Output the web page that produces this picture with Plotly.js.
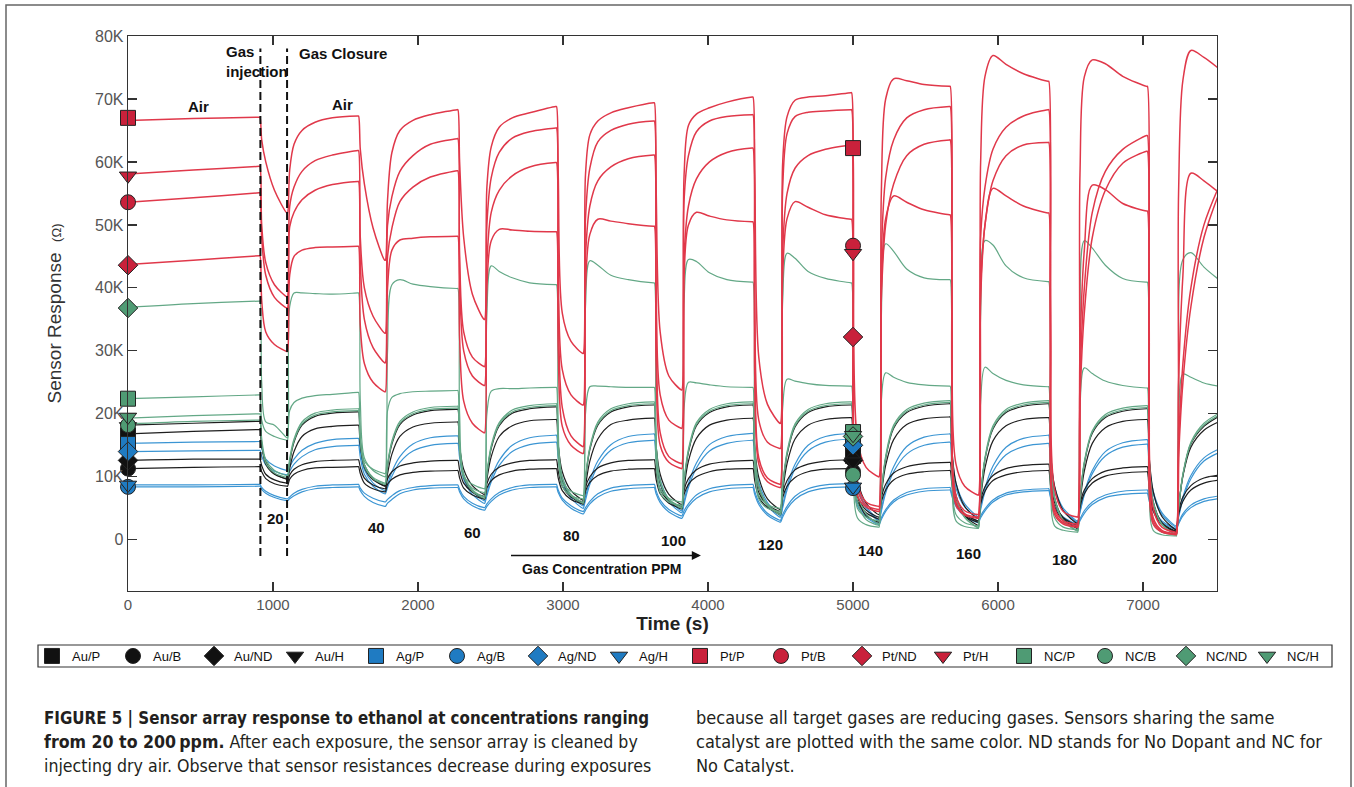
<!DOCTYPE html>
<html><head><meta charset="utf-8">
<script src="https://cdn.plot.ly/plotly-3.0.1.min.js"></script>
<style>html,body{margin:0;padding:0;background:#fff;}#chart{width:1354px;height:787px;}</style>
</head><body><div id="chart"></div>
<script>
// ---- timing of the exposure cycles (s) ----
const dropStart = [910, 1590, 2275, 2955, 3630, 4310, 4990, 5670, 6350, 7030];
const gasClose  = [1100, 1775, 2460, 3140, 3820, 4500, 5180, 5865, 6550, 7230];
const baseTimes = [0, 450];
const dropOffsets = [12, 40, 100];
const riseOffsets = [15, 45, 100, 190, 310];
const concLabels = ['20','40','60','80','100','120','140','160','180','200'];
const concX = [1019, 1712, 2378, 3060, 3763, 4432, 5117, 5799, 6460, 7149];
const concY = [3.3, 2.0, 1.2, 0.7, -0.1, -0.8, -1.7, -2.2, -3.1, -2.9];
const xTicks = [0,1000,2000,3000,4000,5000,6000,7000];
const xTickText = ['0','1000','2000','3000','4000','5000','6000','7000'];
const yTicks = [0,10,20,30,40,50,60,70,80];
const yTickText = ['0','10K','20K','30K','40K','50K','60K','70K','80K'];

// ---- sensor responses (kOhm). rows: [air end, +12s, +40s, +100s, min at closure, +15, +45, +100, +190, +310] ----
const AuP_base = [16.8, 17.2];
const AuP = [
 [17.5,15.0,12.4,10.5,9.6, 11.3,14.0,16.4,17.6,18.0],
 [18.2,15.0,11.9,9.7,8.5, 10.5,13.6,16.4,17.9,18.5],
 [18.7,14.8,11.2,8.6,7.2, 9.6,13.2,16.4,18.1,18.9],
 [19.1,15.1,10.8,7.8,6.3, 8.5,12.5,16.0,18.3,19.0],
 [19.3,14.9,10.4,7.2,5.6, 8.3,12.5,16.1,18.2,19.0],
 [19.3,14.5,9.9,6.5,4.8, 7.7,12.1,16.0,18.2,19.1],
 [19.4,13.3,9.4,5.8,4.0, 7.1,11.8,15.9,18.3,19.2],
 [19.5,14.2,9.0,5.3,3.4, 6.6,11.4,15.7,18.1,19.1],
 [19.4,13.8,8.5,4.6,2.6, 5.9,10.9,15.3,17.8,18.8],
 [19.1,13.3,7.7,3.7,1.6, 5.0,10.1,14.7,17.4,18.9]];
const AuB_base = [11.3, 11.5];
const AuB = [
 [11.6,10.8,9.7,8.9,8.5, 9.6,10.4,11.0,11.4,11.5],
 [11.6,10.5,9.0,8.1,7.6, 8.8,9.6,10.3,10.7,10.9],
 [11.0,9.8,8.2,7.1,6.5, 8.2,9.4,10.3,10.9,11.2],
 [11.3,9.8,7.8,6.4,5.7, 7.7,9.1,10.2,10.9,11.2],
 [11.3,9.6,7.3,5.8,5.0, 7.2,8.8,10.0,10.8,11.2],
 [11.3,9.4,6.8,5.1,4.2, 6.7,8.5,9.9,10.8,11.2],
 [11.3,10.8,6.1,4.3,3.3, 6.0,7.9,9.5,10.4,10.8],
 [11.0,8.8,5.7,3.8,2.8, 5.7,7.7,9.4,10.3,10.8],
 [11.0,8.6,5.2,3.1,2.0, 5.1,7.3,9.0,10.1,10.6],
 [10.8,8.2,4.6,2.4,1.3, 4.0,6.1,7.9,9.0,9.5]];
const AuND_base = [12.6, 12.8];
const AuND = [
 [12.8,11.8,10.4,9.5,9.0, 10.3,11.2,11.9,12.4,12.6],
 [12.7,11.5,9.8,8.7,8.1, 9.7,10.8,11.7,12.2,12.5],
 [12.6,11.1,9.0,7.6,6.9, 8.9,10.4,11.5,12.2,12.6],
 [12.7,10.9,8.5,6.8,6.0, 8.3,10.0,11.4,12.2,12.6],
 [12.7,10.7,8.0,6.2,5.3, 7.9,9.7,11.1,12.0,12.4],
 [12.6,10.4,7.5,5.5,4.5, 7.4,9.4,11.1,12.0,12.5],
 [12.7,12.3,7.0,4.7,3.6, 6.6,8.8,10.6,11.6,12.1],
 [12.3,10.0,6.5,4.1,3.0, 6.2,8.4,10.2,11.3,11.8],
 [12.0,9.4,5.9,3.5,2.3, 5.6,7.9,9.7,10.9,11.4],
 [11.6,8.8,5.0,2.6,1.4, 4.5,6.8,8.6,9.8,10.3]];
const AuH_base = [18.2, 18.5];
const AuH = [
 [18.8,15.2,12.0,10.4,9.7, 12.3,15.5,18.2,19.6,20.1],
 [20.3,15.6,11.5,9.5,8.6, 11.7,15.2,18.3,19.8,20.5],
 [20.7,15.0,10.0,7.6,6.5, 10.2,14.5,18.1,20.1,20.8],
 [21.1,14.9,9.5,6.9,5.7, 9.6,14.3,18.2,20.3,21.1],
 [21.4,14.8,9.0,6.2,4.9, 9.0,13.9,18.1,20.2,21.1],
 [21.4,14.4,8.3,5.4,4.0, 8.3,13.5,17.9,20.2,21.1],
 [21.4,12.4,7.0,3.8,2.8, 7.3,12.9,17.7,20.2,21.2],
 [21.6,13.8,7.0,3.8,2.3, 7.1,12.8,17.6,20.2,21.2],
 [21.6,13.6,6.7,3.3,1.8, 6.5,12.1,16.9,19.4,20.4],
 [20.8,12.9,6.1,2.7,1.2, 5.0,10.3,15.2,18.0,19.8]];
const AgP_base = [15.3, 15.5];
const AgP = [
 [15.6,14.5,12.8,11.7,11.0, 11.6,12.8,14.2,15.3,15.9],
 [16.1,14.0,11.1,9.0,7.8, 8.8,10.8,13.2,15.2,16.2],
 [16.5,14.0,10.3,7.7,6.2, 7.4,9.8,12.6,15.0,16.2],
 [16.6,13.8,9.9,7.1,5.4, 6.8,9.4,12.5,15.1,16.4],
 [16.8,13.8,9.5,6.4,4.6, 6.1,8.9,12.2,15.1,16.4],
 [16.9,13.7,9.1,5.9,3.9, 5.5,8.5,12.0,15.0,16.4],
 [16.9,15.5,8.7,5.3,3.2, 4.8,8.0,11.6,14.8,16.3],
 [16.8,13.5,9.0,5.7,3.7, 5.2,8.2,11.7,14.7,16.1],
 [16.6,13.2,8.4,5.0,3.0, 4.5,7.5,11.0,14.0,15.4],
 [15.9,12.5,7.7,4.3,2.2, 3.8,6.8,10.2,13.0,14.6]];
const AgB_base = [8.4, 8.4];
const AgB = [
 [8.5,8.0,7.4,6.7,6.2, 6.5,7.0,7.6,8.1,8.3],
 [8.4,7.8,6.9,5.9,5.3, 5.8,6.4,7.3,7.9,8.2],
 [8.3,7.6,6.5,5.4,4.7, 5.3,6.1,7.1,7.9,8.3],
 [8.4,7.5,6.3,5.0,4.1, 4.7,5.7,6.8,7.7,8.1],
 [8.3,7.3,5.9,4.4,3.4, 4.1,5.3,6.6,7.6,8.1],
 [8.3,7.2,5.6,3.9,2.8, 3.6,4.9,6.4,7.6,8.2],
 [8.4,8.2,5.4,3.6,2.4, 3.2,4.5,6.0,7.1,7.7],
 [7.9,6.9,5.3,3.7,2.7, 3.5,4.6,6.0,7.1,7.6],
 [7.8,6.7,5.0,3.3,2.2, 3.0,4.2,5.6,6.7,7.2],
 [7.4,6.2,4.5,2.8,1.6, 2.5,3.8,5.1,6.1,6.6]];
const AgND_base = [14.0, 14.1];
const AgND = [
 [14.2,13.3,11.9,10.9,10.3, 10.9,12.0,13.2,14.3,14.8],
 [15.0,13.1,10.4,8.5,7.3, 8.3,10.1,12.3,14.1,15.0],
 [15.3,13.0,9.6,7.2,5.8, 7.0,9.2,11.8,14.0,15.1],
 [15.5,12.9,9.2,6.6,5.0, 6.3,8.8,11.7,14.2,15.4],
 [15.8,12.9,8.9,6.0,4.3, 5.7,8.3,11.4,14.1,15.3],
 [15.8,12.8,8.5,5.4,3.6, 5.1,7.9,11.3,14.1,15.5],
 [16.0,15.0,8.2,5.0,3.0, 4.5,7.4,10.8,13.6,15.0],
 [15.5,12.5,8.2,5.2,3.4, 4.8,7.6,10.8,13.5,14.8],
 [15.3,12.2,7.8,4.7,2.8, 4.3,7.1,10.5,13.3,14.7],
 [15.2,11.9,7.3,4.0,2.0, 3.5,6.4,9.7,12.5,14.0]];
const AgH_base = [8.7, 8.7];
const AgH = [
 [8.8,8.3,7.7,7.0,6.5, 6.8,7.4,8.0,8.5,8.7],
 [8.8,8.2,7.4,6.6,6.0, 6.4,7.0,7.8,8.3,8.6],
 [8.7,8.0,6.9,5.8,5.1, 5.7,6.5,7.5,8.3,8.7],
 [8.8,7.9,6.6,5.4,4.5, 5.1,6.1,7.3,8.2,8.6],
 [8.8,7.8,6.3,4.8,3.8, 4.6,5.7,7.1,8.1,8.6],
 [8.8,7.7,6.0,4.2,3.1, 4.0,5.3,6.9,8.1,8.7],
 [8.9,8.4,5.8,3.9,2.6, 3.5,4.8,6.3,7.5,8.1],
 [8.3,7.2,5.7,4.1,3.0, 3.8,4.9,6.3,7.4,7.9],
 [8.1,7.0,5.3,3.6,2.5, 3.3,4.6,6.0,7.1,7.7],
 [7.9,6.7,4.9,3.0,1.8, 2.7,4.1,5.5,6.5,7.0]];
const PtP_base = [66.6, 66.9];
const PtP = [
 [67.1,63.5,60.0,55.5,51.9, 58.7,62.8,65.0,66.3,67.0],
 [67.3,62.0,56.5,49.5,44.4, 54.0,61.5,65.0,66.6,67.5],
 [68.3,60.0,48.0,39.0,35.0, 56.0,62.4,65.5,67.0,67.8],
 [68.8,58.0,36.0,31.5,29.6, 58.0,64.3,66.5,67.8,68.6],
 [69.4,56.0,33.0,26.0,23.8, 58.0,65.8,67.6,68.6,69.5],
 [70.3,58.0,29.0,21.5,18.5, 60.0,67.2,69.8,70.3,70.5],
 [71.0,60.0,16.0,11.5,10.0, 55.0,70.0,73.2,72.9,72.3],
 [72.0,40.0,12.0,8.5,7.1, 60.0,73.6,76.9,75.5,74.0],
 [72.8,38.0,8.0,4.5,3.6, 58.0,73.5,76.2,75.6,73.6],
 [72.0,36.0,5.0,2.0,1.2, 55.0,73.0,77.7,76.6,74.5]];
const PtB_base = [53.6, 54.3];
const PtB = [
 [55.1,48.0,42.0,38.5,36.8, 49.7,52.0,54.0,55.5,56.4],
 [56.9,44.0,35.0,30.5,28.1, 45.0,49.5,53.7,56.0,57.6],
 [58.6,42.0,30.0,26.0,24.5, 44.0,52.0,55.5,57.8,59.2],
 [59.9,38.0,21.0,16.5,14.8, 45.0,53.0,57.0,59.2,60.5],
 [61.1,36.0,17.0,13.2,12.1, 45.0,53.0,57.3,60.0,61.5],
 [62.2,34.0,13.0,9.8,8.8, 46.0,55.0,59.0,61.0,62.0],
 [62.7,46.5,8.0,5.5,4.8, 38.0,50.0,56.5,61.0,62.8],
 [63.5,33.0,6.0,4.1,3.6, 40.0,50.0,57.0,61.0,62.7],
 [63.1,31.0,4.5,2.7,2.2, 22.0,36.0,48.0,55.5,59.8],
 [61.7,30.0,3.0,1.3,0.9, 13.0,25.0,37.0,48.0,56.0]];
const PtND_base = [43.7, 44.4];
const PtND = [
 [45.1,38.0,33.0,31.0,29.9, 42.0,45.0,46.0,46.4,46.5],
 [46.6,34.0,28.0,25.0,23.5, 40.0,46.0,47.6,47.9,48.1],
 [48.2,32.0,22.0,18.5,17.0, 40.0,47.5,49.3,49.2,49.0],
 [48.9,30.0,18.0,15.0,13.7, 40.0,48.5,50.9,50.6,50.2],
 [49.8,28.0,15.0,12.3,11.3, 42.0,50.0,52.0,51.4,50.8],
 [50.5,26.0,12.0,9.2,8.3, 42.0,51.0,53.7,52.8,51.6],
 [50.9,32.2,7.0,5.2,4.5, 40.0,51.0,54.6,53.6,52.4],
 [51.6,24.0,5.5,3.9,3.4, 38.0,50.0,55.8,54.6,53.0],
 [51.9,22.0,4.0,2.5,2.0, 30.0,46.0,56.3,55.6,53.4],
 [52.2,20.0,2.5,1.2,0.8, 25.0,42.0,58.2,57.0,54.8]];
const PtH_base = [58.1, 58.7];
const PtH = [
 [59.3,50.0,44.0,40.5,38.6, 52.9,56.0,58.5,60.2,61.1],
 [61.8,48.0,40.0,35.5,32.8, 50.0,54.5,58.5,61.0,62.8],
 [63.7,45.0,33.0,29.0,27.5, 50.0,57.5,61.5,63.8,64.8],
 [65.4,42.0,27.0,23.0,21.4, 51.0,59.0,63.2,65.0,66.0],
 [66.5,40.0,23.0,19.0,17.7, 54.0,61.0,64.8,66.5,67.2],
 [67.5,38.0,19.0,15.5,14.5, 56.0,64.5,67.2,67.9,68.1],
 [68.3,45.5,9.0,6.0,5.3, 45.0,57.5,63.5,67.0,68.3],
 [68.8,36.0,7.0,4.6,4.0, 48.0,56.0,62.0,65.5,67.3],
 [68.3,34.0,5.0,3.0,2.5, 25.0,40.0,52.0,58.5,62.0],
 [64.2,32.0,3.5,1.5,1.0, 15.0,28.0,40.0,50.0,57.0]];
const NCP_base = [22.4, 22.7];
const NCP = [
 [23.0,19.0,17.2,16.4,15.8, 20.5,21.8,22.5,22.9,23.1],
 [23.4,16.0,12.5,11.2,10.5, 20.5,22.6,23.2,23.5,23.6],
 [23.7,14.0,10.0,8.8,8.1, 20.0,23.6,24.0,24.0,24.1],
 [24.2,13.0,9.0,7.7,7.0, 20.0,24.3,24.4,24.3,24.2],
 [24.2,12.0,8.0,6.6,6.0, 21.0,25.0,24.9,24.6,24.3],
 [24.2,11.0,7.0,5.6,5.0, 21.0,25.5,25.2,24.8,24.5],
 [24.4,17.1,5.0,3.6,3.0, 22.0,26.5,25.8,25.0,24.6],
 [24.4,9.0,4.0,2.7,2.2, 22.0,27.4,26.4,25.3,24.6],
 [24.3,8.0,3.5,2.0,1.6, 21.0,27.3,26.4,25.2,24.5],
 [24.1,7.0,2.5,1.2,0.8, 18.0,26.3,25.8,24.9,24.3]];
const NCB_base = [18.4, 18.8];
const NCB = [
 [19.0,15.4,12.2,10.6,9.9, 12.5,15.7,18.4,19.8,20.3],
 [20.5,15.8,11.7,9.7,8.8, 11.9,15.4,18.5,20.0,20.7],
 [20.9,15.2,10.2,7.7,6.6, 10.3,14.7,18.3,20.3,21.0],
 [21.3,15.1,9.7,7.0,5.8, 9.8,14.5,18.4,20.5,21.3],
 [21.6,15.0,9.2,6.3,5.0, 9.2,14.1,18.3,20.4,21.3],
 [21.6,14.6,8.4,5.4,4.0, 8.4,13.7,18.1,20.4,21.3],
 [21.6,10.3,6.0,3.2,2.3, 7.2,13.0,17.9,20.4,21.4],
 [21.8,13.9,6.9,3.5,1.9, 6.9,12.8,17.8,20.4,21.4],
 [21.8,13.6,6.5,3.0,1.4, 6.3,12.2,17.1,19.6,20.6],
 [21.0,12.9,5.9,2.4,0.8, 4.8,10.3,15.3,18.2,20.0]];
const NCND_base = [36.9, 37.5];
const NCND = [
 [37.9,25.0,18.7,18.2,16.2, 37.0,39.2,39.2,39.1,39.0],
 [39.2,22.0,13.0,11.0,10.0, 30.0,40.5,41.3,40.6,40.2],
 [39.9,20.0,10.0,8.2,7.5, 36.0,43.5,42.6,41.6,40.8],
 [40.5,18.0,8.5,7.0,6.5, 37.0,44.3,43.6,42.0,41.3],
 [40.8,16.0,7.5,6.0,5.5, 38.0,44.5,44.2,42.4,41.3],
 [40.9,15.0,6.5,5.0,4.5, 38.0,45.5,44.7,42.6,41.5],
 [40.8,16.4,3.5,2.4,2.0, 35.0,47.0,45.8,43.0,41.6],
 [41.3,13.0,3.0,2.1,1.8, 36.0,47.5,46.8,43.5,41.6],
 [41.0,12.0,2.2,1.5,1.2, 30.0,47.5,46.3,43.6,41.5],
 [40.9,11.0,1.5,0.8,0.6, 25.0,44.5,45.6,43.3,41.0]];
const NCH_base = [19.3, 19.7];
const NCH = [
 [20.0,16.1,12.7,11.0,10.2, 12.9,16.0,18.7,20.1,20.6],
 [20.8,16.1,12.0,9.9,9.0, 12.1,15.7,18.8,20.3,21.0],
 [21.2,15.4,10.4,7.9,6.8, 10.5,15.0,18.6,20.6,21.3],
 [21.6,15.4,9.9,7.2,6.0, 10.0,14.7,18.7,20.8,21.6],
 [21.9,15.2,9.4,6.5,5.2, 9.4,14.4,18.6,20.7,21.6],
 [21.9,14.8,8.6,5.6,4.2, 8.6,14.0,18.4,20.7,21.6],
 [21.9,16.6,7.4,4.1,2.5, 7.4,13.3,18.2,20.7,21.7],
 [22.1,14.1,7.0,3.6,2.0, 7.0,13.1,18.1,20.7,21.7],
 [22.1,13.9,6.7,3.1,1.5, 6.5,12.4,17.3,19.9,20.9],
 [21.3,13.1,6.0,2.5,0.9, 5.0,10.5,15.5,18.5,20.3]];

// legend order
const seriesNames = ['Au/P','Au/B','Au/ND','Au/H','Ag/P','Ag/B','Ag/ND','Ag/H','Pt/P','Pt/B','Pt/ND','Pt/H','NC/P','NC/B','NC/ND','NC/H'];
const markerAt0    = [16.6, 11.3, 12.6, 18.0, 15.2, 8.4, 14.0, 8.7, 67.0, 53.6, 43.6, 57.8, 22.4, 18.2, 36.8, 19.5];
const markerAt5000 = [13.3, 10.8, 12.6, 12.4, 15.5, 8.2, 15.0, 8.4, 62.2, 46.7, 32.2, 45.5, 17.1, 10.3, 16.4, 16.6];
const markerTimes = [0, 5000];

// ---- styling ----
const bases = [AuP_base,AuB_base,AuND_base,AuH_base,AgP_base,AgB_base,AgND_base,AgH_base,PtP_base,PtB_base,PtND_base,PtH_base,NCP_base,NCB_base,NCND_base,NCH_base];
const rowsAll = [AuP,AuB,AuND,AuH,AgP,AgB,AgND,AgH,PtP,PtB,PtND,PtH,NCP,NCB,NCND,NCH];
const groupLine = {Au:'#1e1e1e', Ag:'#3b95d3', Pt:'#e0384a', NC:'#63a886'};
const groupMarker = {Au:'#111111', Ag:'#1f7bc2', Pt:'#c9213b', NC:'#4f9b74'};
const symbolOf = {P:'square', B:'circle', ND:'diamond', H:'triangle-down'};

function expand(base, rows) {
  const t = baseTimes.slice(), y = base.slice();
  rows.forEach((r, k) => {
    const T = dropStart[k], R = gasClose[k];
    t.push(T - 5, T); y.push(r[0], r[0]);
    dropOffsets.forEach((o, i) => { t.push(T + o); y.push(r[1 + i]); });
    t.push(R - 5, R); y.push(r[4], r[4]);
    riseOffsets.forEach((o, i) => { t.push(R + o); y.push(r[5 + i]); });
  });
  return {t, y};
}

const drawOrder = ['Ag','Au','NC','Pt'];
const traces = [];
drawOrder.forEach(g => {
  seriesNames.forEach((nm, i) => {
    if (nm.split('/')[0] !== g) return;
    const d = expand(bases[i], rowsAll[i]);
    traces.push({type:'scatter', mode:'lines', x:d.t, y:d.y, name:nm, showlegend:false, hoverinfo:'skip',
      line:{color:groupLine[g], width: g==='Pt'?1.5:1.2, shape:'spline', smoothing:0.9}});
  });
});
seriesNames.forEach((nm, i) => {
  const [g, s] = nm.split('/');
  traces.push({type:'scatter', mode:'markers', x:markerTimes, y:[markerAt0[i], markerAt5000[i]], name:nm,
    legend: i < 8 ? 'legend' : 'legend2', cliponaxis:false, hoverinfo:'name',
    marker:{symbol:symbolOf[s], size:15, color:groupMarker[g], line:{color:'#222', width:1}}});
});

// pixel helpers for layout-only placement
const px2x = p => (p - 128) / 1089;
const py2y = p => (591 - p) / 555;
const bold = {family:'"Liberation Sans", Arial, sans-serif', size:15, color:'#111'};
const capFam = '"Liberation Sans Narrow", "Arial Narrow", "DejaVu Sans Condensed", sans-serif';

const annotations = [
  {x:489, y:68.8, text:'<b>Air</b>', showarrow:false, font:bold},
  {x:1481, y:69.2, text:'<b>Air</b>', showarrow:false, font:bold},
  {x:661, y:76.0, xanchor:'left', align:'left', text:'<b>Gas</b><br><b>injection</b>', showarrow:false, font:bold},
  {x:1164, y:77.2, xanchor:'left', text:'<b>Gas Closure</b>', showarrow:false, font:bold},
  {x:3951, y:-2.5, ax:2631, ay:-2.5, axref:'x', ayref:'y', text:'', showarrow:true, arrowhead:2, arrowsize:1.3, arrowwidth:1.4, arrowcolor:'#111'},
  {x:3262, y:-4.7, text:'<b>Gas Concentration PPM</b>', showarrow:false, font:Object.assign({}, bold, {size:14})}
];
concLabels.forEach((c, i) => annotations.push({x:concX[i], y:concY[i], text:'<b>'+c+'</b>', showarrow:false, font:bold}));
const captionLeft = ['<b>FIGURE 5 | Sensor array response to ethanol at concentrations ranging</b>',
  '<b>from 20 to 200\u2009ppm.</b> After each exposure, the sensor array is cleaned by',
  'injecting dry air. Observe that sensor resistances decrease during exposures'];
const captionLeftSize = [16.8, 17.6, 17.6];
const captionRight = ['because all target gases are reducing gases. Sensors sharing the same',
  'catalyst are plotted with the same color. ND stands for No Dopant and NC for',
  'No Catalyst.'];
const capRows = [718, 742, 766];
captionLeft.forEach((s, i) => annotations.push({xref:'paper', yref:'paper', x:px2x(42), y:py2y(capRows[i]), xanchor:'left', yanchor:'middle', text:s, showarrow:false,
  font:{family:capFam, size:captionLeftSize[i], color:'#231f20'}}));
captionRight.forEach((s, i) => annotations.push({xref:'paper', yref:'paper', x:px2x(694), y:py2y(capRows[i]), xanchor:'left', yanchor:'middle', text:s, showarrow:false,
  font:{family:capFam, size:18, color:'#231f20'}}));

const shapes = [
  {type:'line', xref:'x', yref:'y', x0:913, x1:913, y0:-2.6, y1:78, line:{color:'#111', width:2, dash:'8px,4px'}},
  {type:'line', xref:'x', yref:'y', x0:1097, x1:1097, y0:-2.6, y1:78, line:{color:'#111', width:2, dash:'8px,4px'}},
  {type:'rect', xref:'paper', yref:'paper', x0:px2x(38), x1:px2x(1332), y0:py2y(667), y1:py2y(645), line:{color:'#333', width:1.2}},
  {type:'rect', xref:'paper', yref:'paper', x0:px2x(6), x1:px2x(1351), y0:py2y(800), y1:py2y(5), line:{color:'#666', width:1.5}}
];

const axisCommon = {ticks:'inside', ticklen:9, tickwidth:1.2, tickcolor:'#333', showline:true, linecolor:'#333', linewidth:1.3,
  mirror:'ticks', showgrid:false, zeroline:false, automargin:false, tickmode:'array', fixedrange:true};
const legendCommon = {orientation:'h', xanchor:'left', yanchor:'middle', y:py2y(656), entrywidth:36, entrywidthmode:'pixels',
  font:{family:'"Liberation Sans", Arial, sans-serif', size:13, color:'#111'}, bgcolor:'rgba(0,0,0,0)', borderwidth:0};

const layout = {
  width:1354, height:787,
  margin:{l:128, r:137, t:36, b:196, autoexpand:false},
  paper_bgcolor:'#fff', plot_bgcolor:'#fff',
  font:{family:'"Liberation Sans", Arial, sans-serif', color:'#222'},
  showlegend:true,
  xaxis:Object.assign({}, axisCommon, {range:[0,7510], tickvals:xTicks, ticktext:xTickText,
    tickfont:{size:15, color:'#555'}, title:{text:'<b>Time (s)</b>', font:{size:19, color:'#222'}, standoff:3}}),
  yaxis:Object.assign({}, axisCommon, {range:[-8.14,80], tickvals:yTicks, ticktext:yTickText,
    tickfont:{size:16, color:'#555'}, title:{text:'Sensor Response  <span style="font-size:13px">(\u03a9)</span>', font:{size:19, color:'#333'}, standoff:28}}),
  legend:Object.assign({}, legendCommon, {x:px2x(32)}),
  legend2:Object.assign({}, legendCommon, {x:px2x(32 + 648)}),
  shapes, annotations
};

Plotly.newPlot('chart', traces, layout, {displayModeBar:false, staticPlot:true});
</script></body></html>
